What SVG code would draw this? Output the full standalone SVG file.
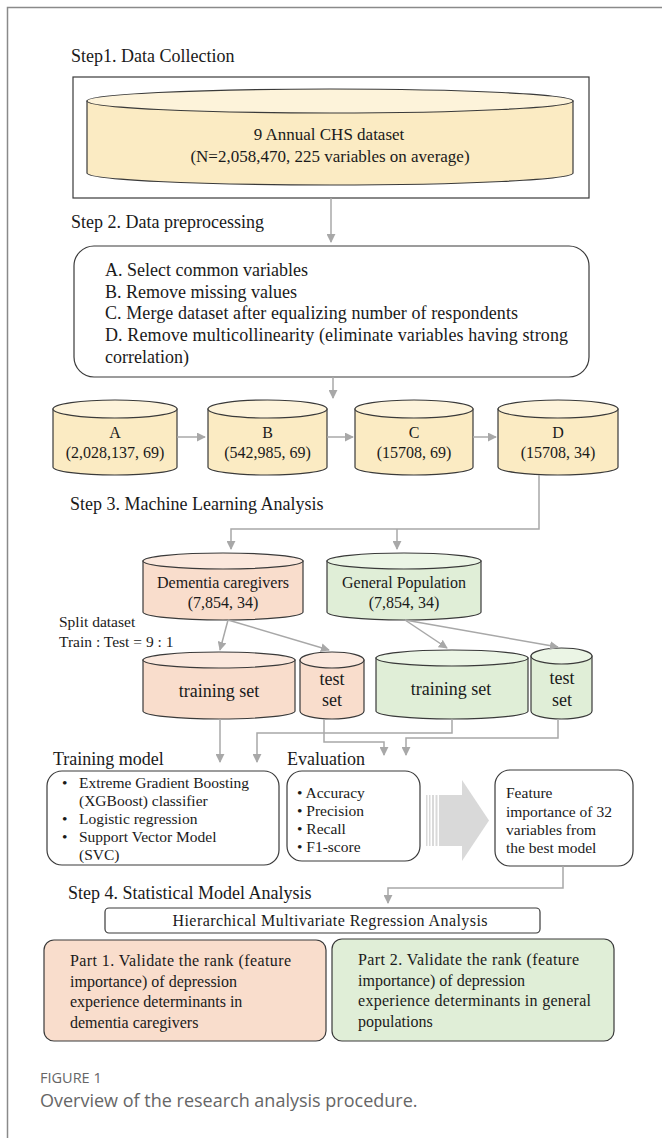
<svg xmlns="http://www.w3.org/2000/svg" width="662" height="1138" viewBox="0 0 662 1138">
<style>
.t{font-family:"Liberation Serif","Times New Roman",serif;fill:#1a1a1a}
.h{font-size:18px}
.l{font-size:17px}
.ll{font-size:18px}
.s{font-size:16px}
.m{font-size:15.5px}
.c{text-anchor:middle}
.y{fill:#FBEBC3;stroke:#3a3a3a;stroke-width:1.2}
.yt{fill:#FDF3DA;stroke:#3a3a3a;stroke-width:1.2}
.p{fill:#F9DDCC;stroke:#3a3a3a;stroke-width:1.2}
.pt{fill:#FBE8DD;stroke:#3a3a3a;stroke-width:1.2}
.g{fill:#E0EED7;stroke:#3a3a3a;stroke-width:1.2}
.gt{fill:#EBF5E5;stroke:#3a3a3a;stroke-width:1.2}
.box{fill:#fff;stroke:#3a3a3a;stroke-width:1.2}
.cn{fill:none;stroke:#A8A8A8;stroke-width:1.5;marker-end:url(#ah)}
.cap{font-family:"Open Sans","Noto Sans",sans-serif;fill:#666}
</style>
<defs>
<marker id="ah" markerUnits="userSpaceOnUse" markerWidth="9" markerHeight="9" viewBox="0 0 10 10" refX="9" refY="5" orient="auto">
<path d="M0,0 L10,5 L0,10 Z" fill="#A8A8A8"/>
</marker>
</defs>
<rect width="662" height="1138" fill="#fff"/>
<path d="M7.5,1138 V7.5 H662" fill="none" stroke="#8a8a8a" stroke-width="1.5"/>

<text class="t h" x="71" y="62">Step1. Data Collection</text>
<text class="t h" x="71" y="228">Step 2. Data preprocessing</text>
<text class="t h" x="70" y="510">Step 3. Machine Learning Analysis</text>
<text class="t h" x="68" y="899">Step 4. Statistical Model Analysis</text>

<g id="step1">
<rect class="box" x="73" y="77" width="516" height="121"/>
<path class="y" d="M87,101 V173 A243,12 0 0 0 573,173 V101 Z"/>
<ellipse class="yt" cx="330" cy="101" rx="243" ry="12"/>
<text class="t l c" x="329" y="140">9 Annual CHS dataset</text>
<text class="t l c" x="330" y="162">(N=2,058,470, 225 variables on average)</text>
</g>

<g id="step2">
<rect class="box" x="74" y="246" width="515" height="131" rx="20"/>
<text class="t ll" x="105" y="276" textLength="203">A. Select common variables</text>
<text class="t ll" x="105" y="298" textLength="192">B. Remove missing values</text>
<text class="t ll" x="105" y="319" textLength="413">C. Merge dataset after equalizing number of respondents</text>
<text class="t ll" x="105" y="341" textLength="463">D. Remove multicollinearity (eliminate variables having strong</text>
<text class="t ll" x="105" y="363">correlation)</text>
</g>

<g id="dsA">
<path class="y" d="M53,409 V467 A62,8 0 0 0 177,467 V409 Z"/>
<ellipse class="yt" cx="115" cy="409" rx="62" ry="9"/>
<text class="t s c" x="115" y="438">A</text>
<text class="t s c" x="115" y="458">(2,028,137,  69)</text>
</g>
<g id="dsB">
<path class="y" d="M208,409 V467 A59.5,8 0 0 0 327,467 V409 Z"/>
<ellipse class="yt" cx="267.5" cy="409" rx="59.5" ry="9"/>
<text class="t s c" x="267.5" y="438">B</text>
<text class="t s c" x="267.5" y="458">(542,985,  69)</text>
</g>
<g id="dsC">
<path class="y" d="M355,409 V467 A59,8 0 0 0 473,467 V409 Z"/>
<ellipse class="yt" cx="414" cy="409" rx="59" ry="9"/>
<text class="t s c" x="414" y="438">C</text>
<text class="t s c" x="414" y="458">(15708, 69)</text>
</g>
<g id="dsD">
<path class="y" d="M498,409 V467 A60,8 0 0 0 618,467 V409 Z"/>
<ellipse class="yt" cx="558" cy="409" rx="60" ry="9"/>
<text class="t s c" x="558" y="438">D</text>
<text class="t s c" x="558" y="458">(15708, 34)</text>
</g>

<g id="dementia">
<path class="p" d="M143,561 V612 A80,8 0 0 0 303,612 V561 Z"/>
<ellipse class="pt" cx="223" cy="561" rx="80" ry="8"/>
<text class="t s c" x="223" y="588">Dementia caregivers</text>
<text class="t s c" x="223" y="608">(7,854,  34)</text>
</g>
<g id="general">
<path class="g" d="M327,561 V612 A77,8 0 0 0 481,612 V561 Z"/>
<ellipse class="gt" cx="404" cy="561" rx="77" ry="8"/>
<text class="t s c" x="404" y="588">General Population</text>
<text class="t s c" x="404" y="608">(7,854,  34)</text>
</g>

<g id="split-label">
<text class="t m" x="59" y="627">Split  dataset</text>
<text class="t m" x="59" y="647">Train : Test = 9 : 1</text>
</g>

<g id="dem-train">
<path class="p" d="M143,660 V711 A76,8 0 0 0 295,711 V660 Z"/>
<ellipse class="pt" cx="219" cy="660" rx="76" ry="8"/>
<text class="t ll c" x="219" y="697">training set</text>
</g>
<g id="dem-test">
<path class="p" d="M300,660 V711 A32,8 0 0 0 364,711 V660 Z"/>
<ellipse class="pt" cx="332" cy="660" rx="32" ry="8"/>
<text class="t ll c" x="332" y="685">test</text>
<text class="t ll c" x="332" y="706">set</text>
</g>
<g id="gen-train">
<path class="g" d="M376,658 V711 A76,8 0 0 0 528,711 V658 Z"/>
<ellipse class="gt" cx="452" cy="658" rx="76" ry="8"/>
<text class="t ll c" x="451" y="695">training set</text>
</g>
<g id="gen-test">
<path class="g" d="M531,656 V711 A30.5,8 0 0 0 592,711 V656 Z"/>
<ellipse class="gt" cx="561.5" cy="656" rx="30.5" ry="8"/>
<text class="t ll c" x="562" y="684">test</text>
<text class="t ll c" x="562" y="706">set</text>
</g>

<text class="t h" x="53" y="765">Training model</text>
<text class="t h" x="287" y="765">Evaluation</text>

<g id="training-model">
<rect class="box" x="47" y="771" width="232" height="94" rx="15"/>
<text class="t m" x="62" y="788">•</text>
<text class="t m" x="79" y="788" textLength="170">Extreme Gradient Boosting</text>
<text class="t m" x="79" y="806">(XGBoost) classifier</text>
<text class="t m" x="62" y="824">•</text>
<text class="t m" x="79" y="824">Logistic regression</text>
<text class="t m" x="62" y="842">•</text>
<text class="t m" x="79" y="842">Support Vector Model</text>
<text class="t m" x="79" y="860">(SVC)</text>
</g>

<g id="evaluation">
<rect class="box" x="287" y="771" width="133" height="90" rx="15"/>
<text class="t m" x="297" y="798">• Accuracy</text>
<text class="t m" x="297" y="816">• Precision</text>
<text class="t m" x="297" y="834">• Recall</text>
<text class="t m" x="297" y="852">• F1-score</text>
</g>

<g id="big-arrow" fill="#D9D9D9">
<rect x="426" y="795" width="1.5" height="51"/>
<rect x="429" y="795" width="1.5" height="51"/>
<rect x="432" y="795" width="2" height="51"/>
<rect x="435.5" y="795" width="2" height="51"/>
<rect x="439" y="795" width="23" height="51"/>
<path d="M462,780 L489,820.5 L462,861 Z"/>
</g>

<g id="feature">
<rect class="box" x="495" y="770" width="138" height="96" rx="15"/>
<text class="t m" x="506" y="798">Feature</text>
<text class="t m" x="506" y="817">importance of 32</text>
<text class="t m" x="506" y="835">variables from</text>
<text class="t m" x="506" y="853">the best model</text>
</g>

<g id="hmr">
<rect class="box" x="105" y="908" width="435" height="25" rx="4"/>
<text class="t s c" x="330" y="926" textLength="315">Hierarchical Multivariate Regression Analysis</text>
</g>

<g id="part1">
<rect class="p" x="44" y="940" width="282" height="101" rx="10"/>
<text class="t s" x="70" y="966" textLength="221">Part 1. Validate the rank (feature</text>
<text class="t s" x="70" y="987">importance)  of depression</text>
<text class="t s" x="70" y="1007">experience  determinants  in</text>
<text class="t s" x="70" y="1028">dementia  caregivers</text>
</g>
<g id="part2">
<rect class="g" x="332" y="939" width="282" height="102" rx="10"/>
<text class="t s" x="358" y="965" textLength="221">Part 2. Validate the rank (feature</text>
<text class="t s" x="358" y="986">importance)  of depression</text>
<text class="t s" x="358" y="1006" textLength="233">experience  determinants  in general</text>
<text class="t s" x="358" y="1027">populations</text>
</g>

<g id="connectors">
<path class="cn" d="M331,198 V242"/>
<path class="cn" d="M333,377 V398"/>
<path class="cn" d="M177,437 H205"/>
<path class="cn" d="M327,437 H353"/>
<path class="cn" d="M473,437 H496"/>
<path class="cn" d="M539,475 V529 H231 V549"/>
<path class="cn" d="M397,529 V549"/>
<path class="cn" d="M228,620 L220,650"/>
<path class="cn" d="M228,620 L329,650"/>
<path class="cn" d="M405,620 L447,648"/>
<path class="cn" d="M405,620 L558,647"/>
<path class="cn" d="M220,719 V762"/>
<path class="cn" d="M452,719 V733 H257 V762"/>
<path class="cn" d="M324,719 V742 H384 V755"/>
<path class="cn" d="M558,719 V738 H406 V755"/>
<path class="cn" d="M563,866 V888 H388 V903"/>
</g>

<text class="cap" x="40" y="1083" font-size="14.5">FIGURE 1</text>
<text class="cap" x="40" y="1107" font-size="18">Overview of the research analysis procedure.</text>
</svg>
